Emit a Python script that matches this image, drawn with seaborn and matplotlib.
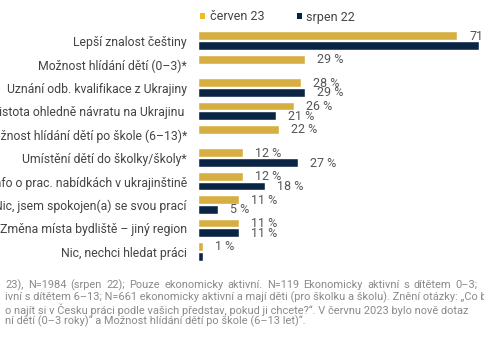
import pandas as pd
import numpy as np
import matplotlib.pyplot as plt
import seaborn as sns
from matplotlib.patches import Patch

# data
categories = [
    "Lepší znalost češtiny",
    "Možnost hlídání dětí (0–3)*",
    "Uznání odb. kvalifikace z Ukrajiny",
    "Nejistota ohledně návratu na Ukrajinu ",
    "Možnost hlídání dětí po škole (6–13)*",
    "Umístění dětí do školky/školy*",
    "Více info o prac. nabídkách v ukrajinštině",
    "Nic, jsem spokojen(a) se svou prací",
    "Změna místa bydliště – jiný region",
    "Nic, nechci hledat práci",
]
cerven23 = [71, 29, 28, 26, 22, 12, 12, 11, 11, 1]
srpen22 = [77, np.nan, 29, 21, np.nan, 27, 18, 5, 11, 1]
series = ["červen 23", "srpen 22"]
colors = ["#F0B928", "#00254D"]

footnote = [
    "23), N=1984 (srpen 22); Pouze ekonomicky aktivní. N=119 Ekonomicky aktivní s dítětem 0–3;",
    "ivní s dítětem 6–13; N=661 ekonomicky aktivní a mají děti (pro školku a školu). Znění otázky: „Co b",
    "o najít si v Česku práci podle vašich představ, pokud ji chcete?“. V červnu 2023 bylo nově dotaz",
    "ní dětí (0–3 roky)“ a Možnost hlídání dětí po škole (6–13 let)“.",
]

df = pd.DataFrame({
    "kategorie": categories * 2,
    "obdobi": [series[0]] * len(categories) + [series[1]] * len(categories),
    "hodnota": cerven23 + srpen22,
})

sns.set_style("white")
plt.rcParams['font.family'] = ['Roboto', 'DejaVu Sans']

W, H = 485, 360
fig = plt.figure(figsize=(W / 100, H / 100), dpi=100)
# axes placed in pixel terms: bars start at x=199.5, area from y=20 to y=261
ax_left, ax_top, ax_bottom = 199.5, 20, 261
ax = fig.add_axes([ax_left / W, 1 - ax_bottom / H, 1 - ax_left / W, (ax_bottom - ax_top) / H])

sns.barplot(data=df, y="kategorie", x="hodnota", hue="obdobi", order=categories,
            hue_order=series, palette=colors, orient="h", width=0.84, gap=0.2,
            ax=ax, legend=False, edgecolor="white", linewidth=0.3)

px_per_unit = 3.63
ax.set_xlim(0, (W - ax_left) / px_per_unit)
row_px = 23.4
first_row = 41.2
ax.set_ylim((ax_bottom - first_row) / row_px, -(first_row - ax_top) / row_px)

ax.set_xlabel("")
ax.set_ylabel("")
ax.set_xticks([])
ax.tick_params(axis="y", length=0, pad=9, labelsize=8.8, labelcolor="#444444")
sns.despine(ax=ax, left=True, bottom=True, top=True, right=True)

# value labels (the last srpen bar is cut by the footnote, no label there)
for s, container in enumerate(ax.containers):
    for bar in container:
        row = int(round(bar.get_y() + bar.get_height() / 2))
        if s == 1 and row == len(categories) - 1:
            continue
        v = bar.get_width()
        if np.isnan(v):
            continue
        txt = f"{v:g}" if v >= 70 else f"{v:g} %"
        ax.annotate(txt, (v, bar.get_y() + bar.get_height() / 2),
                    xytext=(12, 0), textcoords="offset pixels",
                    va="center", ha="left", fontsize=9, color="#555555",
                    annotation_clip=False)

handles = [Patch(facecolor=c, edgecolor="none") for c in colors]
fig.legend(handles, series, loc="center left", bbox_to_anchor=(189 / W, 1 - 17 / H),
           ncol=2, frameon=False, fontsize=9, handlelength=0.4, handleheight=0.4,
           handletextpad=0.35, columnspacing=2.6, labelcolor="#444444")

# footnote, first line justified like in the source
fn_kw = dict(fontsize=7.9, color="#8a8a8a", va="center")
renderer = fig.canvas.get_renderer()
words = footnote[0].split(" ")
widths = []
for w in words:
    t = fig.text(0, 0, w, **fn_kw)
    widths.append(t.get_window_extent(renderer).width)
    t.remove()
space = (478 - 5 - sum(widths)) / (len(words) - 1)
x = 5
for w, wd in zip(words, widths):
    fig.text(x / W, 1 - 285 / H, w, ha="left", **fn_kw)
    x += wd + space
for k, line in enumerate(footnote[1:], start=1):
    fig.text(5 / W, 1 - (285 + 12.2 * k) / H, line, ha="left", **fn_kw)

fig.savefig("out.png", dpi=100)
